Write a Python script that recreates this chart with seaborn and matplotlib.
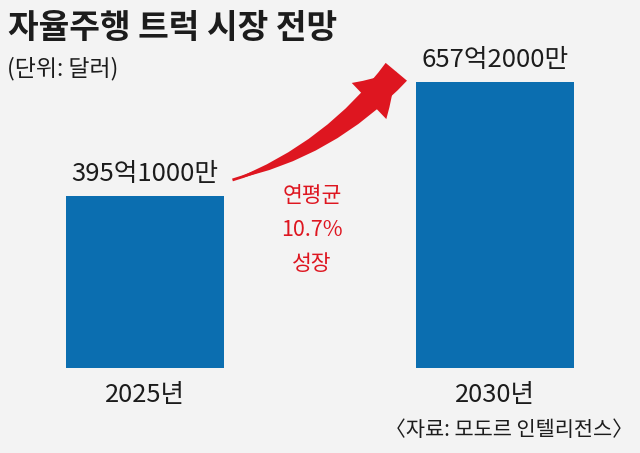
import matplotlib
matplotlib.use('Agg')
import matplotlib.pyplot as plt
import seaborn as sns
from matplotlib.patches import FancyArrowPatch

# values (unit: 억 달러)
years = ['2025년', '2030년']
values = [395.1, 657.2]
value_labels = ['395억1000만', '657억2000만']
growth_text = '연평균\n10.7%\n성장'

title = '자율주행 트럭 시장 전망'
subtitle = '(단위: 달러)'
source = '〈자료: 모도르 인텔리전스〉'

bg = '#f3f3f3'
bar_color = '#0b6eb0'
red = '#de1620'
ink = '#1c1c1c'

sns.set_theme(style='white')
plt.rcParams['font.family'] = ['Noto Sans CJK KR', 'DejaVu Sans']

fig = plt.figure(figsize=(6.4, 4.53), dpi=100, facecolor=bg)
ax = fig.add_axes([0, 0, 1, 1])
ax.set_facecolor(bg)

sns.barplot(x=years, y=values, color=bar_color, saturation=1, width=0.451,
            linewidth=0, ax=ax)

# map the axes so the bars sit where they do in the reference
ax.set_xlim(-0.414, 1.414)
ax.set_ylim(-195, 845)
ax.axis('off')

# value labels above bars, year labels below
for i, (v, lab) in enumerate(zip(values, value_labels)):
    ax.annotate(lab, xy=(i, v), xytext=(0, 22), textcoords='offset pixels',
                ha='center', va='center', fontsize=18.5, color=ink)
    ax.annotate(years[i], xy=(i, 0), xytext=(0, -27), textcoords='offset pixels',
                ha='center', va='center', fontsize=18.3, color=ink)

# growth arrow between the bars: tapered shaft + head
start = (0.25, values[0] * 1.093)
tip = (0.718, values[1] * 1.035)
shaft = FancyArrowPatch(tip, start, arrowstyle='wedge,tail_width=0.5,shrink_factor=0.55',
                        connectionstyle='arc3,rad=-0.15', mutation_scale=40,
                        shrinkA=0, shrinkB=0, color=red, lw=0)
head = FancyArrowPatch(start, tip, arrowstyle='simple,head_length=0.72,head_width=0.9,tail_width=0.05',
                       connectionstyle='arc3,rad=0.15', mutation_scale=40,
                       shrinkA=0, shrinkB=0, color=red, lw=0)
ax.add_patch(shaft)
ax.add_patch(head)

ax.text(0.477, 317, growth_text, ha='center', va='center', fontsize=15.5,
        color=red, linespacing=1.7)

fig.text(0.0125, 0.936, title, ha='left', va='center', fontsize=24,
         fontweight='bold', color=ink)
fig.text(0.011, 0.848, subtitle, ha='left', va='center', fontsize=16.5, color=ink)
fig.text(0.989, 0.051, source, ha='right', va='center', fontsize=15, color=ink)

fig.savefig('out.png', dpi=100, facecolor=bg)
